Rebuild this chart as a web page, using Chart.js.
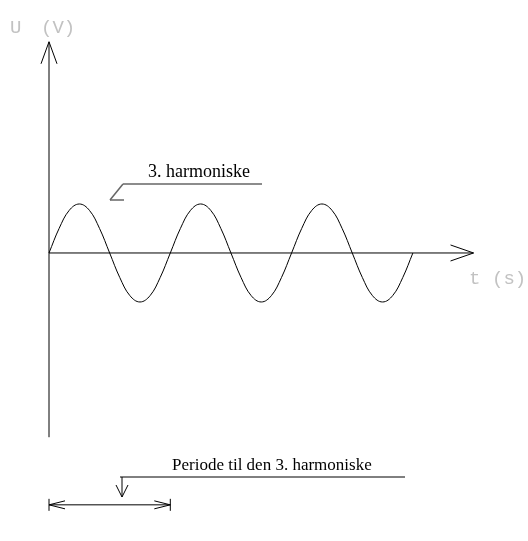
<!DOCTYPE html>
<html>
<head>
<meta charset="utf-8">
<script src="https://cdn.jsdelivr.net/npm/chart.js@4"></script>
<style>
  html, body { margin: 0; padding: 0; background: #fff; }
  #wrap { width: 528px; height: 541px; }
</style>
</head>
<body>
<div id="wrap"><canvas id="c" width="528" height="541"></canvas></div>
<script>
// time in units of the 3rd harmonic's period, voltage in units of its amplitude
const waveT = [0, 0.0833, 0.1667, 0.25, 0.3333, 0.4167, 0.5, 0.5833, 0.6667, 0.75, 0.8333, 0.9167,
  1, 1.0833, 1.1667, 1.25, 1.3333, 1.4167, 1.5, 1.5833, 1.6667, 1.75, 1.8333, 1.9167,
  2, 2.0833, 2.1667, 2.25, 2.3333, 2.4167, 2.5, 2.5833, 2.6667, 2.75, 2.8333, 2.9167, 3];
const waveU = [0, 0.5, 0.87, 1, 0.87, 0.5, 0, -0.5, -0.87, -1, -0.87, -0.5,
  0, 0.5, 0.87, 1, 0.87, 0.5, 0, -0.5, -0.87, -1, -0.87, -0.5,
  0, 0.5, 0.87, 1, 0.87, 0.5, 0, -0.5, -0.87, -1, -0.87, -0.5, 0];

const axisT = [0, 3.5];      // t axis, origin to arrow tip
const axisU = [-3.76, 4.31]; // U axis, bottom to arrow tip
const periodSpan = [0, 1];   // one period of the 3rd harmonic
const periodU = -5.14;       // height of the period marker

const labelWave = '3. harmoniske';
const labelPeriod = 'Periode til den 3. harmoniske';
const labelU = ['U', '(V)'];
const labelT = ['t', '(s)'];

const sketch = {
  id: 'sketch',
  afterDatasetsDraw(chart) {
    const { ctx, scales: { x, y } } = chart;
    const px = v => x.getPixelForValue(v);
    const py = v => y.getPixelForValue(v);
    const seg = (x1, y1, x2, y2) => { ctx.beginPath(); ctx.moveTo(x1, y1); ctx.lineTo(x2, y2); ctx.stroke(); };

    ctx.save();
    ctx.strokeStyle = '#000';
    ctx.lineWidth = 1;

    // axes
    const ox = px(0), oy = py(0);
    seg(ox, py(axisU[0]), ox, py(axisU[1]));
    seg(ox - 8, py(axisU[1]) + 22, ox, py(axisU[1]));
    seg(ox + 8, py(axisU[1]) + 22, ox, py(axisU[1]));
    seg(ox, oy, px(axisT[1]), oy);
    seg(px(axisT[1]) - 23, oy - 8, px(axisT[1]), oy);
    seg(px(axisT[1]) - 23, oy + 8, px(axisT[1]), oy);

    // period marker
    const pl = px(periodSpan[0]), pr = px(periodSpan[1]), pyy = py(periodU);
    seg(pl, pyy, pr, pyy);
    seg(pl, pyy - 6, pl, pyy + 6);
    seg(pr, pyy - 6, pr, pyy + 6);
    seg(pl + 16, pyy - 4, pl, pyy);
    seg(pl + 16, pyy + 4, pl, pyy);
    seg(pr - 16, pyy - 4, pr, pyy);
    seg(pr - 16, pyy + 4, pr, pyy);

    // callout for the period
    seg(120, 477, 405, 477);
    seg(122, 477, 122, 497);
    seg(116, 485, 122, 497);
    seg(128, 485, 122, 497);

    // callout for the wave
    ctx.strokeStyle = '#666';
    ctx.lineWidth = 1.5;
    seg(262, 184, 123, 184);
    seg(123, 184, 110, 200);
    seg(110, 200, 124, 200);

    ctx.fillStyle = '#000';
    ctx.textBaseline = 'alphabetic';
    ctx.font = '18px "Liberation Serif"';
    ctx.fillText(labelWave, 148, 177);
    ctx.font = '17px "Liberation Serif"';
    ctx.fillText(labelPeriod, 172, 470);

    ctx.fillStyle = '#c2c2c2';
    ctx.font = '19px "Liberation Mono"';
    ctx.textBaseline = 'middle';
    ctx.fillText(labelU[0], 10, 28);
    ctx.fillText(labelU[1], 41, 28);
    ctx.fillText(labelT[0], 469, 279);
    ctx.fillText(labelT[1], 492, 279);
    ctx.restore();
  }
};

new Chart(document.getElementById('c'), {
  type: 'line',
  data: {
    datasets: [{
      data: waveT.map((t, i) => ({ x: t, y: waveU[i] })),
      borderColor: '#000',
      borderWidth: 1,
      pointRadius: 0,
      tension: 0.4,
      fill: false,
    }],
  },
  options: {
    responsive: false,
    animation: false,
    layout: { padding: 0 },
    scales: {
      x: { type: 'linear', display: false, min: -0.404, max: 3.949 },
      y: { type: 'linear', display: false, min: -5.878, max: 5.163 },
    },
    plugins: { legend: { display: false }, tooltip: { enabled: false } },
  },
  plugins: [sketch],
});
</script>
</body>
</html>
